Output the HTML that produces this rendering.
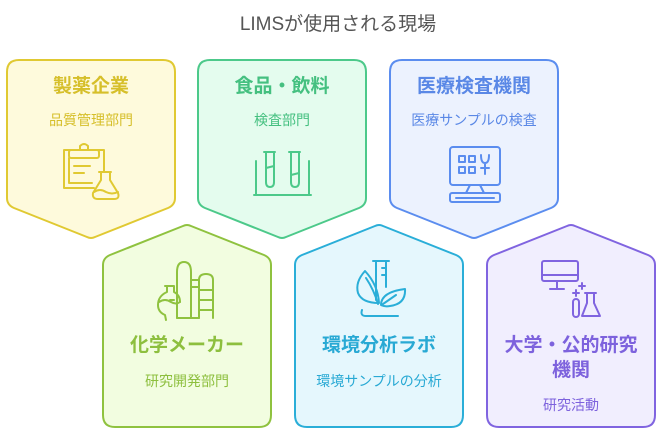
<!DOCTYPE html>
<html><head><meta charset="utf-8"><style>
html,body{margin:0;padding:0;background:#fff;width:665px;height:440px;overflow:hidden}
text{font-family:"Liberation Sans","Noto Sans CJK JP",sans-serif}
</style></head><body>
<svg width="665" height="440" viewBox="0 0 665 440" xmlns="http://www.w3.org/2000/svg">
<text x="338" y="30" font-size="19" fill="#555" text-anchor="middle">LIMSが使用される現場</text>

<g stroke-width="2" stroke-linejoin="round">
<path d="M19,60 H163 Q175,60 175,72 V198 Q175,205 168,208 L95,237 Q91,239 87,237 L14,208 Q7,205 7,198 V72 Q7,60 19,60 Z" fill="#fefadc" stroke="#e0c932"/>
<path d="M210,60 H354 Q366,60 366,72 V198 Q366,205 359,208 L286,237 Q282,239 278,237 L205,208 Q198,205 198,198 V72 Q198,60 210,60 Z" fill="#e4fcee" stroke="#4cc98a"/>
<path d="M402,60 H546 Q558,60 558,72 V198 Q558,205 551,208 L478,237 Q474,239 470,237 L397,208 Q390,205 390,198 V72 Q390,60 402,60 Z" fill="#ecf2fe" stroke="#5b8def"/>
<path d="M115,427 H259 Q271,427 271,415 V265 Q271,258 264,255 L191,226 Q187,224 183,226 L110,255 Q103,258 103,265 V415 Q103,427 115,427 Z" fill="#f2fde0" stroke="#8fc23f"/>
<path d="M307,427 H451 Q463,427 463,415 V265 Q463,258 456,255 L383,226 Q379,224 375,226 L302,255 Q295,258 295,265 V415 Q295,427 307,427 Z" fill="#e5f7fd" stroke="#2aaed8"/>
<path d="M499,427 H643 Q655,427 655,415 V265 Q655,258 648,255 L575,226 Q571,224 567,226 L494,255 Q487,258 487,265 V415 Q487,427 499,427 Z" fill="#f1eefe" stroke="#8064e0"/>
</g>

<text x="91" y="92" font-size="19" font-weight="bold" fill="#d6bf2a" text-anchor="middle">製薬企業</text>
<text x="91" y="125" font-size="14" fill="#d6bf2a" text-anchor="middle">品質管理部門</text>
<text x="282" y="92" font-size="19" font-weight="bold" fill="#45c080" text-anchor="middle">食品・飲料</text>
<text x="282" y="125" font-size="14" fill="#45c080" text-anchor="middle">検査部門</text>
<text x="474" y="92" font-size="19" font-weight="bold" fill="#5a88e6" text-anchor="middle">医療検査機関</text>
<text x="474" y="125" font-size="14" fill="#5a88e6" text-anchor="middle">医療サンプルの検査</text>
<text x="187" y="351" font-size="19" font-weight="bold" fill="#8dbf3e" text-anchor="middle">化学メーカー</text>
<text x="187" y="386" font-size="14" fill="#8dbf3e" text-anchor="middle">研究開発部門</text>
<text x="379" y="351" font-size="19" font-weight="bold" fill="#28a9d4" text-anchor="middle">環境分析ラボ</text>
<text x="379" y="386" font-size="14" fill="#28a9d4" text-anchor="middle">環境サンプルの分析</text>
<text x="571" y="351" font-size="19" font-weight="bold" fill="#7d62dd" text-anchor="middle">大学・公的研究</text>
<text x="571" y="376" font-size="19" font-weight="bold" fill="#7d62dd" text-anchor="middle">機関</text>
<text x="571" y="410" font-size="14" fill="#7d62dd" text-anchor="middle">研究活動</text>

<g fill="none" stroke-width="2" stroke-linecap="round" stroke-linejoin="round">
<g stroke="#e0c932">
<path d="M72,150 H64 V188 H94"/><path d="M96,150 H104 V172"/>
<rect x="69" y="150" width="30" height="8" rx="2"/><path d="M80,150 V146 Q84,142 88,146 V150"/>
<path d="M69,158 V183 H92"/><path d="M74,166 H90 M74,173 H84"/>
<path d="M99,172 H111 M101,172 V180 L93,193 Q92,199 98,199 H114 Q120,199 118,193 L110,180 V172"/>
<path d="M94,192 Q100,188 106,192 Q112,195 118,192"/>
</g>
<g stroke="#4cc98a">
<path d="M256,161 V195 M309,161 V195 M254,195 H311"/>
<path d="M264,152 H275 M266,152 V182 Q266,187 270,187 Q274,187 274,182 V152 M266,168 L274,166"/>
<path d="M289,152 H300 M291,152 V182 Q291,187 295,187 Q299,187 299,182 V152 M291,175 L299,173"/>
</g>
<g stroke="#5b8def">
<rect x="450" y="147" width="50" height="38" rx="3"/>
<rect x="459" y="156" width="6" height="6"/><rect x="469" y="156" width="6" height="6"/>
<rect x="459" y="167" width="6" height="6"/><rect x="469" y="167" width="6" height="6"/>
<path d="M481,155 Q481,163 485,163 Q489,163 489,155 M485,163 V174 M481,168 H489"/>
<path d="M470,185 L466,193 M480,185 L484,193"/>
<rect x="450" y="193" width="50" height="9" rx="2"/><path d="M456,198 H494"/>
</g>
<g stroke="#8fc23f">
<path d="M177,318 V272 Q177,262 184,262 Q191,262 191,272 V318"/>
<path d="M191,280 H199 M191,287 H199"/>
<path d="M199,318 V280 Q199,274 206,274 Q213,274 213,280 V318"/>
<path d="M199,290 H213 M199,300 H213 M199,310 H213"/>
<path d="M170,300 H174"/>
<path d="M165,286 H174 M167,286 V292 Q158,296 158,305 Q158,312 165,315 L166,320 M174,286 V292 Q180,295 180,302"/>
<path d="M159,302 Q165,298 171,302 Q176,305 180,302"/>
<path d="M177,318 H199"/>
</g>
<g stroke="#2aaed8">
<path d="M373,261 H389 M376,261 V300 M386,261 V287"/>
<path d="M386,268 H382 M386,275 H382"/>
<path d="M362,310 Q360,316 366,316 H398"/>
<path d="M379,303 Q378,285 365,271 Q355,282 358,293 Q362,303 379,303 Z"/>
<path d="M381,305 Q381,292 405,289 Q406,304 390,306 Q385,307 381,305 Z"/>
<path d="M366,278 Q374,290 378,304 M383,304 L396,295"/>
</g>
<g stroke="#8064e0">
<rect x="542" y="261" width="36" height="20" rx="2"/><path d="M542,275 H578 M557,281 V289 M550,289 H564"/>
<path d="M582,283 V289 M579,286 H585 M576,290 V296 M573,293 H579"/>
<rect x="573" y="299" width="6" height="18" rx="3"/>
<path d="M585,293 H596 M587,293 V303 L582,316 H600 L594,303 V293"/>
</g>
</g>
</svg>
</body></html>
